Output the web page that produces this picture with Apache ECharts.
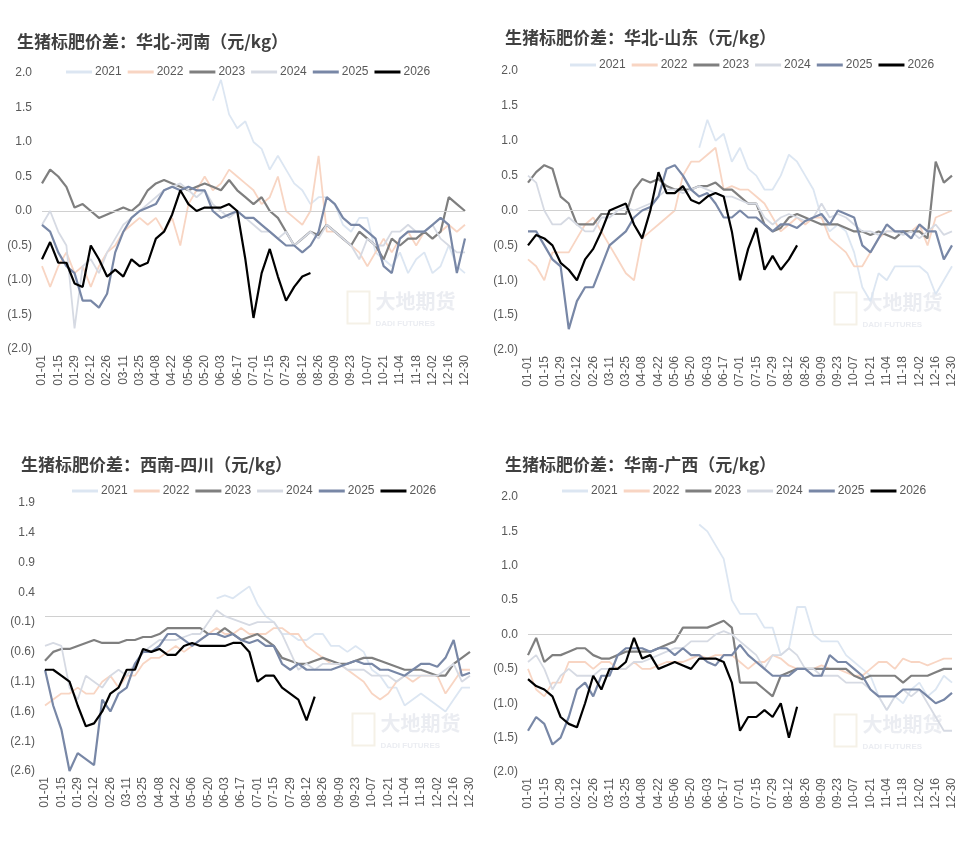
<!DOCTYPE html>
<html>
<head>
<meta charset="utf-8">
<script src="https://cdn.jsdelivr.net/npm/echarts@6/dist/echarts.min.js"></script>
<style>
  html, body { margin: 0; padding: 0; background: #fff; }
  #chart { width: 975px; height: 848px; }
</style>
</head>
<body>
<div id="chart"></div>
<script>
// 周度日期（横轴）
const weeks = ['01-01','01-08','01-15','01-22','01-29','02-05','02-12','02-19','02-26','03-04','03-11','03-18','03-25',
  '04-01','04-08','04-15','04-22','04-29','05-06','05-13','05-20','05-27','06-03','06-10','06-17','06-24','07-01',
  '07-08','07-15','07-22','07-29','08-05','08-12','08-19','08-26','09-02','09-09','09-16','09-23','09-30','10-07',
  '10-14','10-21','10-28','11-04','11-11','11-18','11-25','12-02','12-09','12-16','12-23','12-30'];
const years = ['2021', '2022', '2023', '2024', '2025', '2026'];
const pre21 = new Array(21).fill(null);

// 华北-河南
const henan2021 = pre21.concat([1.6,1.9,1.4,1.2,1.3,1.0,0.9,0.6,0.8,0.6,0.4,0.3,0.1,0.2,0.2,0.1,-0.2,-0.3,-0.1,-0.1,-0.6,-0.7,-0.8,-0.6,-0.9,-0.7,-0.6,-0.9,-0.8,-0.5,-0.8,-0.9]);
const henan2022 = [-0.8,-1.1,-0.8,-0.6,-0.9,-0.8,-1.1,-0.8,-0.6,-0.5,-0.3,-0.2,-0.1,-0.2,-0.1,-0.3,-0.1,-0.5,0.1,0.3,0.5,0.3,0.4,0.6,0.5,0.4,0.3,0.1,0.2,0.5,0.0,-0.1,-0.2,0.0,0.8,-0.3,-0.3,-0.4,-0.5,-0.6,-0.8,-0.6,-0.4,-0.6,-0.4,-0.3,-0.5,-0.3,-0.4,-0.3,-0.2,-0.3,-0.2];
const henan2023 = [0.4,0.6,0.5,0.35,0.05,0.1,0.0,-0.1,-0.05,0.0,0.05,0.0,0.1,0.3,0.4,0.45,0.4,0.35,0.3,0.35,0.4,0.35,0.3,0.45,0.3,0.2,0.1,0.2,0.0,-0.1,-0.3,-0.5,-0.4,-0.3,-0.35,-0.2,-0.3,-0.4,-0.5,-0.3,-0.4,-0.5,-0.7,-0.4,-0.5,-0.4,-0.4,-0.3,-0.4,-0.3,0.2,0.1,0.0];
const henan2024 = [-0.2,0.0,-0.3,-0.5,-1.7,-0.8,-0.7,-0.9,-0.6,-0.4,-0.2,-0.1,0.0,0.1,0.2,0.3,0.35,0.4,0.3,0.2,0.3,0.1,0.0,-0.1,0.0,-0.1,-0.2,-0.3,-0.3,-0.4,-0.3,-0.5,-0.4,-0.3,-0.4,-0.2,-0.3,-0.4,-0.5,-0.7,-0.4,-0.5,-0.5,-0.3,-0.3,-0.2,-0.3,-0.3,-0.2,-0.4,-0.5,-0.6,-0.6];
const henan2025 = [-0.2,-0.3,-0.6,-0.8,-0.9,-1.3,-1.3,-1.4,-1.2,-0.6,-0.3,-0.1,0.0,0.05,0.1,0.3,0.35,0.3,0.35,0.3,0.3,0.0,-0.1,-0.05,0.0,-0.1,-0.1,-0.2,-0.3,-0.4,-0.5,-0.5,-0.6,-0.5,-0.3,0.2,0.1,-0.1,-0.2,-0.2,-0.3,-0.4,-0.8,-0.9,-0.4,-0.3,-0.3,-0.3,-0.2,-0.1,-0.2,-0.9,-0.4];
const henan2026 = [-0.7,-0.45,-0.75,-0.75,-1.05,-1.1,-0.5,-0.7,-0.95,-0.85,-0.95,-0.7,-0.8,-0.75,-0.4,-0.3,-0.05,0.3,0.1,0.0,0.05,0.05,0.05,0.1,0.0,-0.7,-1.55,-0.9,-0.55,-0.95,-1.3,-1.1,-0.95,-0.9];

// 华北-山东
const shandong2021 = pre21.concat([0.9,1.3,1.0,1.1,0.7,0.9,0.6,0.5,0.3,0.3,0.5,0.8,0.7,0.5,0.3,-0.1,-0.3,-0.2,-0.3,-0.6,-1.1,-1.3,-0.9,-1.0,-0.8,-0.8,-0.8,-0.8,-0.9,-1.2,-1.0,-0.8]);
const shandong2022 = [-0.7,-0.8,-1.0,-0.6,-0.6,-0.6,-0.4,-0.2,-0.1,-0.3,-0.5,-0.7,-0.9,-1.0,-0.4,-0.3,-0.2,-0.1,0.0,0.5,0.7,0.7,0.8,0.9,0.3,0.35,0.3,0.3,0.2,0.1,-0.1,-0.3,-0.2,-0.1,-0.2,-0.1,-0.1,-0.4,-0.5,-0.6,-0.8,-0.8,-0.6,-0.4,-0.3,-0.3,-0.3,-0.3,-0.2,-0.5,-0.1,-0.05,0.0];
const shandong2023 = [0.4,0.55,0.65,0.6,0.2,0.1,-0.2,-0.2,-0.2,-0.05,-0.05,-0.05,-0.05,0.3,0.45,0.4,0.45,0.35,0.3,0.3,0.3,0.35,0.35,0.4,0.3,0.3,0.2,0.1,0.1,-0.2,-0.3,-0.25,-0.1,-0.05,-0.1,-0.15,-0.2,-0.2,-0.2,-0.25,-0.3,-0.3,-0.35,-0.3,-0.35,-0.4,-0.3,-0.3,-0.3,-0.4,0.7,0.4,0.5];
const shandong2024 = [0.5,0.4,0.0,-0.2,-0.2,-0.1,-0.2,-0.3,-0.3,-0.1,-0.1,0.0,0.05,0.0,0.05,0.1,0.2,0.3,0.3,0.25,0.3,0.35,0.3,0.25,0.2,0.2,0.15,0.1,0.1,-0.1,-0.2,-0.1,-0.05,-0.1,-0.15,-0.1,0.1,-0.1,-0.05,-0.1,-0.2,-0.3,-0.3,-0.35,-0.3,-0.3,-0.35,-0.3,-0.4,-0.3,-0.2,-0.35,-0.3];
const shandong2025 = [-0.3,-0.3,-0.5,-0.7,-0.8,-1.7,-1.3,-1.1,-1.1,-0.8,-0.5,-0.4,-0.3,-0.1,0.0,0.05,0.2,0.6,0.65,0.5,0.3,0.2,0.25,0.1,-0.1,-0.1,0.0,-0.1,-0.1,-0.2,-0.3,-0.2,-0.2,-0.25,-0.15,-0.1,-0.05,-0.2,0.0,-0.05,-0.1,-0.5,-0.6,-0.4,-0.2,-0.3,-0.3,-0.4,-0.2,-0.3,-0.3,-0.7,-0.5];
const shandong2026 = [-0.5,-0.35,-0.4,-0.5,-0.75,-0.85,-1.0,-0.7,-0.55,-0.3,0.0,0.05,0.1,-0.2,-0.4,0.0,0.55,0.25,0.25,0.35,0.15,0.1,0.2,0.25,0.2,-0.3,-1.0,-0.55,-0.25,-0.85,-0.65,-0.85,-0.7,-0.5];

// 西南-四川
const sichuan2021 = pre21.concat([0.3,0.35,0.3,0.4,0.5,0.2,0.0,-0.1,-0.3,-0.3,-0.4,-0.4,-0.3,-0.3,-0.5,-0.5,-0.6,-0.5,-0.6,-0.9,-1.0,-1.2,-1.2,-1.5,-1.4,-1.3,-1.4,-1.5,-1.6,-1.4,-1.2,-1.2]);
const sichuan2022 = [-1.5,-1.4,-1.3,-1.3,-1.2,-1.3,-1.3,-1.1,-1.0,-1.2,-1.0,-1.0,-0.8,-0.7,-0.7,-0.6,-0.5,-0.6,-0.5,-0.4,-0.3,-0.2,-0.3,-0.3,-0.2,-0.3,-0.3,-0.3,-0.2,-0.2,-0.3,-0.3,-0.5,-0.6,-0.7,-0.8,-0.8,-0.9,-1.0,-1.1,-1.3,-1.4,-1.3,-1.1,-1.0,-1.1,-1.0,-1.0,-1.0,-1.3,-1.1,-0.9,-0.9];
const sichuan2023 = [-0.75,-0.6,-0.55,-0.55,-0.5,-0.45,-0.4,-0.45,-0.45,-0.45,-0.4,-0.4,-0.35,-0.35,-0.3,-0.2,-0.2,-0.2,-0.2,-0.2,-0.3,-0.3,-0.2,-0.3,-0.4,-0.35,-0.3,-0.4,-0.5,-0.7,-0.75,-0.8,-0.8,-0.75,-0.7,-0.75,-0.8,-0.8,-0.75,-0.7,-0.7,-0.75,-0.8,-0.85,-0.9,-0.9,-0.9,-0.95,-1.0,-1.0,-0.8,-0.7,-0.6];
const sichuan2024 = [-0.5,-0.45,-0.5,-1.2,-1.4,-1.0,-1.1,-1.2,-1.0,-0.9,-1.0,-0.8,-0.6,-0.5,-0.4,-0.4,-0.4,-0.35,-0.3,-0.3,-0.1,0.1,0.0,-0.05,-0.1,-0.15,-0.1,-0.1,-0.1,-0.3,-0.6,-0.9,-0.8,-0.9,-0.8,-0.8,-0.8,-0.9,-0.9,-0.9,-1.0,-1.0,-1.0,-1.1,-1.0,-1.0,-1.0,-1.0,-1.0,-0.9,-0.8,-1.1,-1.0];
const sichuan2025 = [-0.9,-1.5,-1.9,-2.6,-2.3,-2.4,-2.5,-1.4,-1.6,-1.3,-1.2,-0.8,-0.6,-0.6,-0.5,-0.3,-0.3,-0.4,-0.5,-0.4,-0.3,-0.3,-0.35,-0.3,-0.4,-0.45,-0.4,-0.5,-0.5,-0.8,-0.9,-0.8,-0.9,-0.9,-0.9,-0.9,-0.85,-0.8,-0.75,-0.8,-0.8,-0.9,-0.9,-0.95,-1.0,-0.9,-0.8,-0.8,-0.85,-0.7,-0.4,-1.0,-0.95];
const sichuan2026 = [-0.9,-0.9,-1.0,-1.1,-1.5,-1.85,-1.8,-1.6,-1.3,-1.2,-0.9,-0.9,-0.55,-0.6,-0.55,-0.65,-0.65,-0.5,-0.45,-0.5,-0.5,-0.5,-0.5,-0.45,-0.45,-0.6,-1.1,-1.0,-1.0,-1.2,-1.3,-1.4,-1.75,-1.35];

// 华南-广西
const guangxi2021 = pre21.concat([1.6,1.5,1.3,1.1,0.5,0.3,0.3,0.3,0.1,0.1,-0.3,-0.2,0.4,0.4,0.0,-0.1,-0.1,-0.1,-0.3,-0.4,-0.5,-0.6,-0.9,-1.1,-0.9,-1.0,-0.8,-0.7,-0.9,-0.8,-0.6,-0.7]);
const guangxi2022 = [-0.5,-0.8,-0.9,-0.7,-0.7,-0.4,-0.4,-0.4,-0.5,-0.4,-0.4,-0.5,-0.5,-0.4,-0.5,-0.5,-0.45,-0.4,-0.4,-0.4,-0.35,-0.3,-0.35,-0.3,-0.3,-0.3,-0.4,-0.5,-0.4,-0.4,-0.3,-0.35,-0.45,-0.5,-0.5,-0.5,-0.45,-0.5,-0.5,-0.55,-0.6,-0.6,-0.5,-0.4,-0.4,-0.5,-0.35,-0.4,-0.4,-0.45,-0.4,-0.35,-0.35];
const guangxi2023 = [-0.3,-0.05,-0.4,-0.3,-0.3,-0.25,-0.2,-0.2,-0.3,-0.35,-0.35,-0.3,-0.25,-0.25,-0.25,-0.25,-0.2,-0.15,-0.1,0.1,0.1,0.1,0.1,0.15,0.2,0.1,-0.7,-0.7,-0.7,-0.8,-0.9,-0.6,-0.55,-0.5,-0.5,-0.5,-0.5,-0.5,-0.5,-0.5,-0.6,-0.65,-0.6,-0.6,-0.6,-0.6,-0.7,-0.6,-0.6,-0.6,-0.55,-0.5,-0.5];
const guangxi2024 = [-0.4,-0.3,-0.5,-0.8,-0.6,-0.5,-0.6,-0.6,-0.6,-0.5,-0.5,-0.5,-0.5,-0.4,-0.4,-0.35,-0.3,-0.25,-0.2,-0.2,-0.1,-0.1,-0.1,0.0,0.05,0.0,-0.1,-0.2,-0.3,-0.5,-0.3,-0.3,-0.2,-0.3,-0.5,-0.5,-0.6,-0.6,-0.6,-0.7,-0.7,-0.7,-0.8,-0.9,-1.1,-0.9,-0.8,-0.9,-0.8,-1.0,-1.2,-1.4,-1.4];
const guangxi2025 = [-1.4,-1.2,-1.3,-1.6,-1.5,-1.2,-0.8,-0.7,-0.9,-0.6,-0.6,-0.3,-0.2,-0.2,-0.2,-0.25,-0.2,-0.2,-0.3,-0.2,-0.3,-0.3,-0.4,-0.45,-0.3,-0.3,-0.15,-0.3,-0.4,-0.5,-0.6,-0.6,-0.6,-0.5,-0.5,-0.6,-0.6,-0.3,-0.4,-0.4,-0.5,-0.6,-0.8,-0.9,-0.9,-0.9,-0.8,-0.8,-0.8,-0.9,-1.0,-0.95,-0.85];
const guangxi2026 = [-0.65,-0.75,-0.8,-0.9,-1.2,-1.3,-1.35,-1.0,-0.6,-0.8,-0.5,-0.5,-0.4,-0.05,-0.35,-0.3,-0.5,-0.45,-0.4,-0.45,-0.5,-0.35,-0.35,-0.35,-0.4,-0.7,-1.4,-1.2,-1.2,-1.1,-1.2,-1.0,-1.5,-1.05];

const colors = ['#dce6f2', '#f8d5c3', '#7f7f7f', '#d6dae3', '#7887a6', '#000000'];
const widths = [1.8, 1.8, 2.2, 1.8, 2.2, 2.2];

const panels = [
  { title: '生猪标肥价差：华北-河南（元/kg）', data: [henan2021, henan2022, henan2023, henan2024, henan2025, henan2026],
    grid: { left: 42, top: 73, width: 423, height: 276 }, min: -2, max: 2, interval: 0.5, tx: 12, ty: 28, lx: 66, ly: 66 },
  { title: '生猪标肥价差：华北-山东（元/kg）', data: [shandong2021, shandong2022, shandong2023, shandong2024, shandong2025, shandong2026],
    grid: { left: 528, top: 71, width: 424, height: 279 }, min: -2, max: 2, interval: 0.5, tx: 500, ty: 24, lx: 570, ly: 59 },
  { title: '生猪标肥价差：西南-四川（元/kg）', data: [sichuan2021, sichuan2022, sichuan2023, sichuan2024, sichuan2025, sichuan2026],
    grid: { left: 45, top: 503, width: 425, height: 268 }, min: -2.6, max: 1.9, interval: 0.5, tx: 16, ty: 451, lx: 72, ly: 485 },
  { title: '生猪标肥价差：华南-广西（元/kg）', data: [guangxi2021, guangxi2022, guangxi2023, guangxi2024, guangxi2025, guangxi2026],
    grid: { left: 528, top: 497, width: 424, height: 275 }, min: -2, max: 2, interval: 0.5, tx: 500, ty: 451, lx: 562, ly: 485 }
];

const fmt = v => {
  const a = Math.abs(v).toFixed(1);
  return v < -1e-9 ? '(' + a + ')' : a;
};

const option = {
  animation: false,
  backgroundColor: '#fff',
  title: [], legend: [], grid: [], xAxis: [], yAxis: [], series: [],
  graphic: []
};

panels.forEach((p, k) => {
  option.title.push({
    text: p.title, left: p.tx, top: p.ty,
    textStyle: { fontSize: 17, fontWeight: 'bold', color: '#404040', fontFamily: 'Noto Sans CJK SC' }
  });
  option.legend.push({
    left: p.lx, top: p.ly, width: 420, itemWidth: 26, itemHeight: 3, itemGap: 6,
    icon: 'rect', padding: 0,
    data: years,
    textStyle: { fontSize: 12, color: '#595959', fontFamily: 'Liberation Sans', padding: [0, 0, 0, -2] }
  });
  option.grid.push(p.grid);
  option.xAxis.push({
    type: 'category', gridIndex: k, data: weeks, boundaryGap: false,
    axisLine: { show: false }, axisTick: { show: false },
    axisLabel: { interval: 1, rotate: 90, fontSize: 12, color: '#595959', margin: 6, fontFamily: 'Liberation Sans' }
  });
  option.yAxis.push({
    type: 'value', gridIndex: k, min: p.min, max: p.max, interval: p.interval,
    splitLine: { show: false }, axisLine: { show: false }, axisTick: { show: false },
    axisLabel: { formatter: fmt, fontSize: 12, color: '#595959', margin: 10, fontFamily: 'Liberation Sans' }
  });
  p.data.forEach((arr, i) => {
    const s = {
      name: years[i], type: 'line', xAxisIndex: k, yAxisIndex: k,
      data: arr, showSymbol: false, symbol: 'none',
      lineStyle: { color: colors[i], width: widths[i] }, itemStyle: { color: colors[i] },
      z: i + 2
    };
    if (i === 0) {
      s.markLine = { silent: true, symbol: 'none', label: { show: false },
        lineStyle: { color: '#d0d0d0', type: 'solid', width: 1 }, data: [{ yAxis: 0 }] };
    }
    option.series.push(s);
  });
  // 水印
  option.graphic.push({
    type: 'group', left: p.grid.left + p.grid.width - 120, top: p.grid.top + p.grid.height - 60, z: 0,
    children: [
      { type: 'rect', shape: { x: 0, y: 2, width: 22, height: 32 }, style: { fill: 'none', stroke: 'rgba(225,215,185,0.35)', lineWidth: 2 } },
      { type: 'text', left: 28, top: 2, style: { text: '大地期货', fontSize: 20, fontWeight: 'bold', fill: 'rgba(215,220,230,0.5)', fontFamily: 'Noto Sans CJK SC' } },
      { type: 'text', left: 28, top: 30, style: { text: 'DADI FUTURES', fontSize: 8, fontWeight: 'bold', fill: 'rgba(215,220,230,0.5)' } }
    ]
  });
});

const chart = echarts.init(document.getElementById('chart'));
chart.setOption(option);
</script>
</body>
</html>
